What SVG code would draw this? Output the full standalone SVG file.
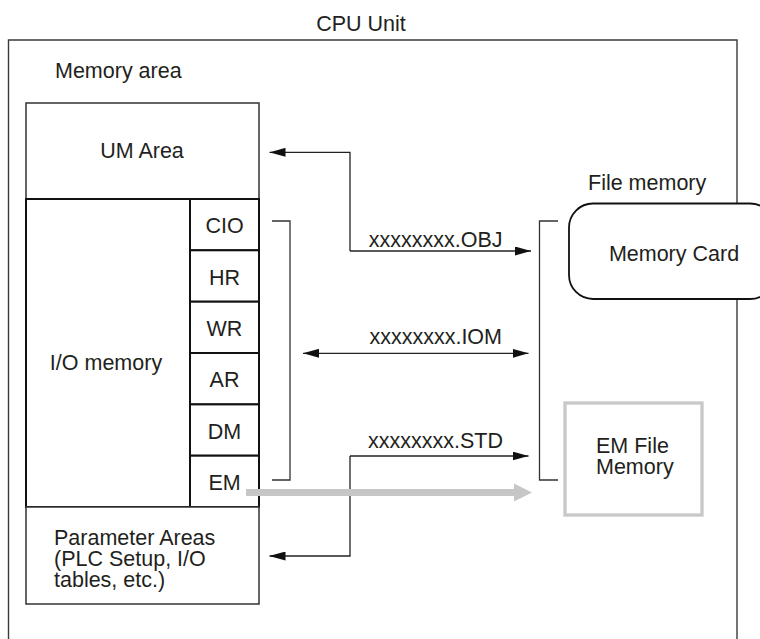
<svg xmlns="http://www.w3.org/2000/svg" width="760" height="639" viewBox="0 0 760 639">
<defs>
<style>
text{font-family:"Liberation Sans",Arial,Helvetica,sans-serif;font-size:21.5px;fill:#231f20}
.mid{text-anchor:middle}
.end{text-anchor:end}
.frame{fill:none;stroke:#3a3a3a;stroke-width:1.4}
.box{fill:#fff;stroke:#333;stroke-width:1.5}
.io{fill:#fff;stroke:#111;stroke-width:2}
.br{fill:none;stroke:#333;stroke-width:1.3}
.conn{fill:none;stroke:#222;stroke-width:1.3}
</style>
<marker id="ah" viewBox="0 0 16 9" markerWidth="16" markerHeight="9" refX="16" refY="4.5" orient="auto-start-reverse" markerUnits="userSpaceOnUse">
<path d="M0,0 L16,4.5 L0,9 z" fill="#111"/>
</marker>
</defs>
<rect width="760" height="639" fill="#fff"/>

<g id="cpu-unit">
<text x="361" y="31" class="mid">CPU Unit</text>
<path class="frame" d="M8.5,639 V40 H737 V639"/>
</g>

<g id="memory-area">
<text x="55" y="78">Memory area</text>
</g>

<g id="um-area">
<rect class="box" x="26" y="103" width="233" height="96"/>
<text x="142" y="158" class="mid">UM Area</text>
</g>

<g id="io-memory">
<rect class="io" x="26" y="199" width="233" height="308"/>
<text x="106" y="370" class="mid">I/O memory</text>
<g id="cio"><rect class="io" x="190" y="199" width="69" height="51.3"/><text x="224.5" y="233" class="mid">CIO</text></g>
<g id="hr"><rect class="io" x="190" y="250.3" width="69" height="51.4"/><text x="224.5" y="284.5" class="mid">HR</text></g>
<g id="wr"><rect class="io" x="190" y="301.7" width="69" height="51.3"/><text x="224.5" y="335.5" class="mid">WR</text></g>
<g id="ar"><rect class="io" x="190" y="353" width="69" height="51.4"/><text x="224.5" y="387" class="mid">AR</text></g>
<g id="dm"><rect class="io" x="190" y="404.4" width="69" height="51.3"/><text x="224.5" y="438.5" class="mid">DM</text></g>
<g id="em"><rect class="io" x="190" y="455.7" width="69" height="51.3"/><text x="224.5" y="489.5" class="mid">EM</text></g>
</g>

<g id="parameter-areas">
<rect class="box" x="26" y="507" width="233" height="97"/>
<text x="54" y="545">Parameter Areas</text>
<text x="54" y="566">(PLC Setup, I/O</text>
<text x="54" y="587">tables, etc.)</text>
</g>

<g id="file-memory">
<text x="588" y="190">File memory</text>
</g>

<g id="memory-card">
<rect x="569" y="203.5" width="205" height="95.5" rx="24" ry="24" fill="#fff" stroke="#111" stroke-width="1.8"/>
<text x="674" y="261" class="mid">Memory Card</text>
</g>

<g id="em-file-memory">
<rect x="565" y="403" width="137" height="112" fill="#fff" stroke="#c8c8c8" stroke-width="3.3"/>
<text x="596" y="453">EM File</text>
<text x="596" y="474">Memory</text>
</g>

<g id="connectors">
<path class="br" d="M272,221 H290 V480 H272"/>
<path class="br" d="M558,221 H539.5 V480 H558"/>
<path class="conn" d="M350,251 V152.3 H269.5" marker-end="url(#ah)"/>
<path class="conn" d="M350,251 H531" marker-end="url(#ah)"/>
<path class="conn" d="M303,353.3 H528.5" marker-start="url(#ah)" marker-end="url(#ah)"/>
<path class="conn" d="M350,456 V556 H269.5" marker-end="url(#ah)"/>
<path class="conn" d="M350,456 H528.5" marker-end="url(#ah)"/>
<path d="M246,492.5 H515" fill="none" stroke="#c6c6c6" stroke-width="7"/>
<path d="M514,483.5 L532,492.5 L514,501.5 z" fill="#c6c6c6"/>
<text x="502.5" y="246.5" class="end">xxxxxxxx.OBJ</text>
<text x="502" y="344" class="end">xxxxxxxx.IOM</text>
<text x="503" y="448" class="end">xxxxxxxx.STD</text>
</g>
</svg>
